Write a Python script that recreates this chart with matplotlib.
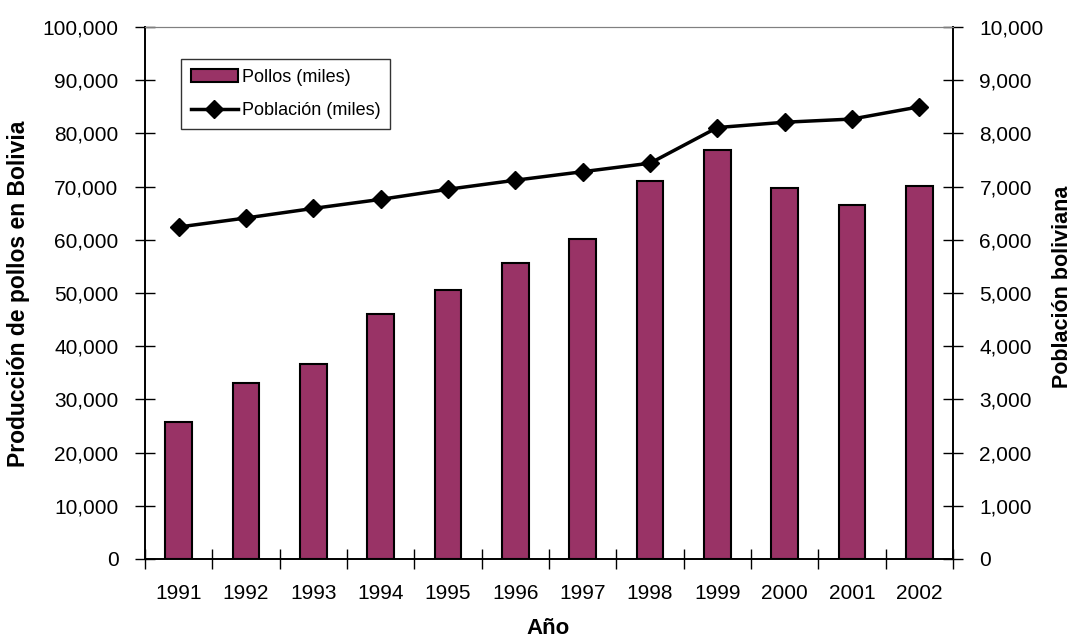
import numpy as np
import matplotlib.pyplot as plt
from matplotlib.ticker import FuncFormatter

plt.rcParams['font.family'] = ['Liberation Sans', 'DejaVu Sans']

years = ['1991', '1992', '1993', '1994', '1995', '1996',
         '1997', '1998', '1999', '2000', '2001', '2002']
pollos = [25800, 33100, 36700, 46000, 50600, 55600,
          60200, 71100, 76800, 69800, 66500, 70100]
poblacion = [6240, 6410, 6590, 6760, 6950, 7120,
             7280, 7440, 8110, 8210, 8270, 8500]

x = np.arange(len(years))
fmt = FuncFormatter(lambda v, p: '{:,.0f}'.format(v))

W, H = 1072, 641
fig = plt.figure(figsize=(W / 100, H / 100), dpi=100)
ax = fig.add_axes([145 / W, 1 - 559 / H, 808 / W, 532 / H])
ax2 = ax.twinx()

b = ax.bar(x, pollos, width=0.4, color='#993366', edgecolor='black', linewidth=1.5,
           label='Pollos (miles)', zorder=2)
l, = ax2.plot(x, poblacion, color='black', lw=2.5, marker='D', markersize=9,
              label='Población (miles)')

ax.set_xlim(-0.5, len(years) - 0.5)
ax.set_ylim(0, 100000)
ax2.set_ylim(0, 10000)
ax.set_yticks(np.arange(0, 100001, 10000))
ax2.set_yticks(np.arange(0, 10001, 1000))
ax.yaxis.set_major_formatter(fmt)
ax2.yaxis.set_major_formatter(fmt)

ax.set_xticks(x)
ax.set_xticklabels(years)
ax.set_xticks(np.arange(-0.5, len(years), 1), minor=True)
ax.tick_params(axis='x', which='major', length=0, pad=18, labelsize=15)
ax.tick_params(axis='x', which='minor', direction='inout', length=14, width=1)
ax.tick_params(axis='y', direction='inout', length=14, width=1, labelsize=15, pad=12)
ax2.tick_params(axis='y', direction='inout', length=14, width=1, labelsize=15, pad=12)

for a in (ax, ax2):
    a.spines['top'].set_color('#808080')
    a.spines['left'].set_linewidth(1.2)
    a.spines['right'].set_linewidth(1.2)
    a.spines['bottom'].set_linewidth(1.2)

# titulos de ejes
fig.text(548 / W, 1 - 628 / H, 'Año', fontsize=16, fontweight='bold',
         ha='center', va='center')
fig.text(19 / W, 1 - 294 / H, 'Producción de pollos en Bolivia', fontsize=16.5,
         fontweight='bold', rotation=90, ha='center', va='center')
fig.text(1063 / W, 1 - 287 / H, 'Población boliviana', fontsize=15.5,
         fontweight='bold', rotation=90, ha='center', va='center')

leg = ax.legend(handles=[b, l], loc='upper left', bbox_to_anchor=(0.0446, 0.94),
                fontsize=13, frameon=True, fancybox=False, edgecolor='black',
                handlelength=2.6, handletextpad=0.2, borderpad=0.55, labelspacing=0.9,
                borderaxespad=0)
leg.get_frame().set_linewidth(1)

fig.savefig('out.png', dpi=100)
